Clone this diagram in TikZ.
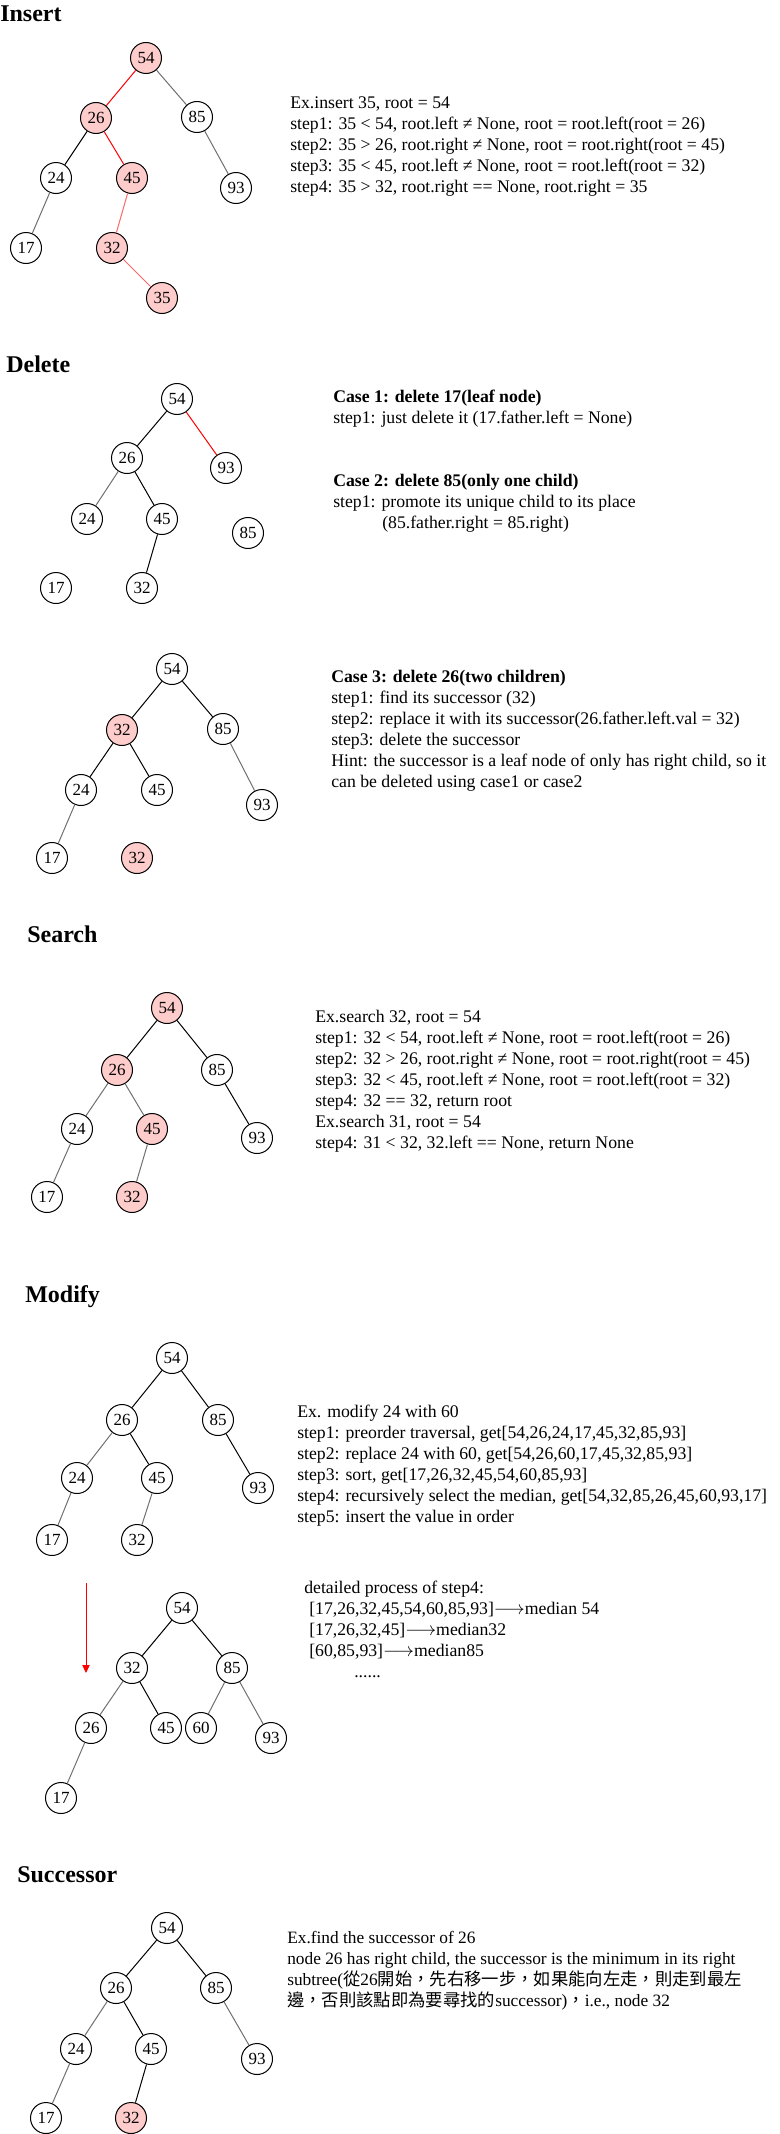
\documentclass[tikz,border=0pt]{standalone}
\usepackage{fontspec}
\setmainfont{Liberation Serif}
\newfontfamily\cjk{Noto Sans CJK TC}
\usetikzlibrary{arrows.meta}
\definecolor{hit}{HTML}{FFCCCC}
\definecolor{path}{HTML}{FF0000}
\definecolor{pathl}{HTML}{FF6666}
\definecolor{thin}{HTML}{707070}
\newcommand{\goesto}{\ensuremath{\longrightarrow}}
\tikzset{
  key/.style={circle,draw=black,line width=0.75pt,fill=white,minimum size=23.25pt,
    inner sep=0pt,font=\fontsize{12.75}{14}\selectfont},
  keyh/.style={key,fill=hit},                 % node on the visited path
  link/.style={draw=black,line width=0.75pt},
  linkg/.style={link,draw=thin},
  linkr/.style={link,draw=path},
  linkl/.style={link,draw=pathl},
  head/.style={anchor=base west,inner sep=0pt,font=\fontsize{18}{22}\selectfont\bfseries},
  % notes are placed by the baseline of their last line
  note/.style={anchor=base west,inner sep=0pt,align=left,font=\fontsize{13.3}{15.75}\selectfont},
  drop/.style={-{Triangle[length=6pt,width=5.5pt]},draw=path,fill=path,line width=0.75pt},
}

\begin{document}
\begin{tikzpicture}[x=0.75pt,y=-0.75pt]
  \useasboundingbox (0,0) rectangle (779,2134);
  % --- insert ---
  \node[head] (hins) at (0,22) {Insert};
  \node[keyh] (i54) at (146,58) {54};
  \node[keyh] (i26) at (96,118) {26};
  \node[key] (i85) at (197,117) {85};
  \node[key] (i24) at (56,178) {24};
  \node[keyh] (i45) at (132,178) {45};
  \node[key] (i93) at (236,188) {93};
  \node[key] (i17) at (26,248) {17};
  \node[keyh] (i32) at (112,248) {32};
  \node[keyh] (i35) at (162,298) {35};
  \draw[linkr] (i54)--(i26);
  \draw[linkg] (i54)--(i85);
  \draw[link] (i26)--(i24);
  \draw[linkr] (i26)--(i45);
  \draw[linkg] (i24)--(i17);
  \draw[linkl] (i45)--(i32);
  \draw[linkg] (i85)--(i93);
  \draw[linkl] (i32)--(i35);
  \node[note] (tins) at (290,192) {Ex.insert 35, root = 54\\
    step1: 35 < 54, root.left ≠ None, root = root.left(root = 26)\\
    step2: 35 > 26, root.right ≠ None, root = root.right(root = 45)\\
    step3: 35 < 45, root.left ≠ None, root = root.left(root = 32)\\
    step4: 35 > 32, root.right == None, root.right = 35};
  % --- delete ---
  \node[head] (hdel) at (6,372) {Delete};
  \node[key] (d54) at (177,399) {54};
  \node[key] (d26) at (127,458) {26};
  \node[key] (d93) at (226,468) {93};
  \node[key] (d24) at (87,519) {24};
  \node[key] (d45) at (162,519) {45};
  \node[key] (d85) at (248,533) {85};
  \node[key] (d17) at (56,588) {17};
  \node[key] (d32) at (142,588) {32};
  \draw[link] (d54)--(d26);
  \draw[linkr] (d54)--(d93);
  \draw[linkg] (d26)--(d24);
  \draw[link] (d26)--(d45);
  \draw[link] (d45)--(d32);
  \node[note] (tcase1) at (333,423) {\textbf{Case 1: delete 17(leaf node)}\\
    step1: just delete it (17.father.left = None)};
  \node[note] (tcase2) at (333,528) {\textbf{Case 2: delete 85(only one child)}\\
    step1: promote its unique child to its place\\
    \hspace*{36.75pt}(85.father.right = 85.right)};
  \node[key] (c54) at (172,669) {54};
  \node[keyh] (c32) at (122,730) {32};
  \node[key] (c85) at (223,729) {85};
  \node[key] (c24) at (81,790) {24};
  \node[key] (c45) at (157,790) {45};
  \node[key] (c93) at (262,805) {93};
  \node[key] (c17) at (52,858) {17};
  \node[keyh] (c32b) at (137,858) {32};
  \draw[link] (c54)--(c32);
  \draw[link] (c54)--(c85);
  \draw[link] (c32)--(c24);
  \draw[link] (c32)--(c45);
  \draw[linkg] (c85)--(c93);
  \draw[linkg] (c24)--(c17);
  \node[note] (tcase3) at (331,787) {\textbf{Case 3: delete 26(two children)}\\
    step1: find its successor (32)\\
    step2: replace it with its successor(26.father.left.val = 32)\\
    step3: delete the successor\\
    Hint: the successor is a leaf node of only has right child, so it\\
    can be deleted using case1 or case2};
  % --- search ---
  \node[head] (hsea) at (27,942) {Search};
  \node[keyh] (s54) at (167,1008) {54};
  \node[keyh] (s26) at (117,1070) {26};
  \node[key] (s85) at (217,1070) {85};
  \node[key] (s24) at (77,1129) {24};
  \node[keyh] (s45) at (152,1129) {45};
  \node[key] (s93) at (257,1138) {93};
  \node[key] (s17) at (47,1197) {17};
  \node[keyh] (s32) at (132,1197) {32};
  \draw[link] (s54)--(s26);
  \draw[link] (s54)--(s85);
  \draw[linkg] (s26)--(s24);
  \draw[linkg] (s26)--(s45);
  \draw[link] (s85)--(s93);
  \draw[linkg] (s24)--(s17);
  \draw[linkg] (s45)--(s32);
  \node[note] (tsea) at (315,1148) {Ex.search 32, root = 54\\
    step1: 32 < 54, root.left ≠ None, root = root.left(root = 26)\\
    step2: 32 > 26, root.right ≠ None, root = root.right(root = 45)\\
    step3: 32 < 45, root.left ≠ None, root = root.left(root = 32)\\
    step4: 32 == 32, return root\\
    Ex.search 31, root = 54\\
    step4: 31 < 32, 32.left == None, return None};
  % --- modify ---
  \node[head] (hmod) at (25,1302) {Modify};
  \node[key] (m54) at (172,1358) {54};
  \node[key] (m26) at (122,1420) {26};
  \node[key] (m85) at (218,1420) {85};
  \node[key] (m24) at (77,1478) {24};
  \node[key] (m45) at (157,1478) {45};
  \node[key] (m93) at (258,1488) {93};
  \node[key] (m17) at (52,1540) {17};
  \node[key] (m32) at (137,1540) {32};
  \draw[link] (m54)--(m26);
  \draw[link] (m54)--(m85);
  \draw[linkg] (m26)--(m24);
  \draw[link] (m26)--(m45);
  \draw[link] (m85)--(m93);
  \draw[linkg] (m24)--(m17);
  \draw[linkg] (m45)--(m32);
  \node[note] (tmod) at (297,1522) {Ex. modify 24 with 60\\
    step1: preorder traversal, get[54,26,24,17,45,32,85,93]\\
    step2: replace 24 with 60, get[54,26,60,17,45,32,85,93]\\
    step3: sort, get[17,26,32,45,54,60,85,93]\\
    step4: recursively select the median, get[54,32,85,26,45,60,93,17]\\
    step5: insert the value in order};
  \coordinate (a0) at (86,1583);
  \coordinate (a1) at (86,1673);
  \draw[drop] (a0)--(a1);
  \node[key] (n54) at (182,1608) {54};
  \node[key] (n32) at (132,1668) {32};
  \node[key] (n85) at (232,1668) {85};
  \node[key] (n26) at (91,1728) {26};
  \node[key] (n45) at (166,1728) {45};
  \node[key] (n60) at (201,1728) {60};
  \node[key] (n93) at (271,1738) {93};
  \node[key] (n17) at (61,1798) {17};
  \draw[link] (n54)--(n32);
  \draw[link] (n54)--(n85);
  \draw[linkg] (n32)--(n26);
  \draw[link] (n32)--(n45);
  \draw[linkg] (n85)--(n60);
  \draw[linkg] (n85)--(n93);
  \draw[linkg] (n26)--(n17);
  \node[note] (tstep4) at (304,1677) {detailed process of step4:\\
    \hspace*{3.75pt}[17,26,32,45,54,60,85,93]\goesto median 54\\
    \hspace*{3.75pt}[17,26,32,45]\goesto median32\\
    \hspace*{3.75pt}[60,85,93]\goesto median85\\
    \hspace*{37.5pt}......};
  % --- successor ---
  \node[head] (hsuc) at (17,1882) {Successor};
  \node[key] (u54) at (167,1928) {54};
  \node[key] (u26) at (116,1988) {26};
  \node[key] (u85) at (216,1988) {85};
  \node[key] (u24) at (76,2049) {24};
  \node[key] (u45) at (151,2049) {45};
  \node[key] (u93) at (257,2059) {93};
  \node[key] (u17) at (46,2118) {17};
  \node[keyh] (u32) at (131,2118) {32};
  \draw[link] (u54)--(u26);
  \draw[link] (u54)--(u85);
  \draw[linkg] (u26)--(u24);
  \draw[link] (u26)--(u45);
  \draw[linkg] (u85)--(u93);
  \draw[linkg] (u24)--(u17);
  \draw[link] (u45)--(u32);
  \node[note,font=\fontsize{13}{15.75}\selectfont] (tsuc) at (287,2006) {Ex.find the successor of 26\\
    node 26 has right child, the successor is the minimum in its right\\
    subtree({\cjk 從}26{\cjk 開始，先右移一步，如果能向左走，則走到最左}\\
    {\cjk 邊，否則該點即為要尋找的}successor){\cjk ，}i.e., node 32};
\end{tikzpicture}
\end{document}
